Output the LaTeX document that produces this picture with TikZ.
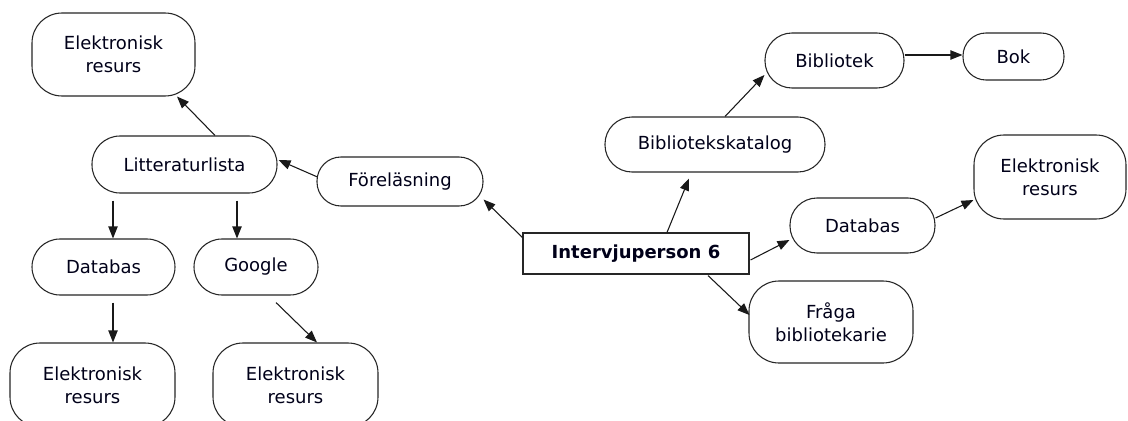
\documentclass[tikz,border=0pt]{standalone}
\usepackage{fontspec}
\setmainfont{DejaVu Sans}
\usetikzlibrary{arrows.meta,calc}
\begin{document}
\begin{tikzpicture}[x=0.75pt,y=-0.75pt,
  every node/.style={font=\fontsize{13.5pt}{17pt}\selectfont, text=black!90!blue, inner sep=0pt, align=center},
  bubble/.style n args={3}{draw=black!85, line width=0.8pt, rounded corners=#3*0.75pt,
      minimum width=#1*0.75pt, minimum height=#2*0.75pt},
  hub/.style={draw=black!85, line width=0.8pt, minimum width=226*0.75pt, minimum height=41*0.75pt,
      font=\bfseries\fontsize{13.5pt}{17pt}\selectfont},
  link/.style={draw=black!90, line width=0.8pt, -{Triangle[length=9pt,width=7pt]}}]
\clip (0,0) rectangle (1128,421);
\fill[white] (0,0) rectangle (1128,421);

% central node
\node[hub] (ip) at (636,253.5) {Intervjuperson 6};

% left branch
\node[bubble={166}{49}{24}] (fore) at (400,181.5) {Föreläsning};
\node[bubble={185}{57}{28}] (lit) at (184.5,164.5) {Litteraturlista};
\node[bubble={163}{83}{30}] (e1) at (113.5,54.5) {Elektronisk\\resurs};
\node[bubble={143}{56}{28}] (db1) at (103.5,267) {Databas};
\node[bubble={124}{56}{28}] (goo) at (256,267) {Google};
\node[bubble={165}{84}{30}] (e3) at (92.5,385) {Elektronisk\\resurs};
\node[bubble={165}{84}{30}] (e4) at (295.5,385) {Elektronisk\\resurs};

% right branch
\node[bubble={220}{55}{27}] (kat) at (715,144.5) {Bibliotekskatalog};
\node[bubble={139}{55}{27}] (bib) at (834.5,60.5) {Bibliotek};
\node[bubble={101}{47}{23}] (bok) at (1013.5,56.5) {Bok};
\node[bubble={145}{55}{27}] (db2) at (862.5,225.5) {Databas};
\node[bubble={152}{84}{30}] (e2) at (1050,177) {Elektronisk\\resurs};
\node[bubble={164}{82}{30}] (fra) at (831,322) {Fråga\\bibliotekarie};

% connectors
\draw[link] ($(ip.north west)+(0,5)$) -- ($(fore.south east)+(0,-7)$);
\draw[link] ($(fore.west)+(1,-4.5)$) -- ($(lit.east)+(1,-4.5)$);
\draw[link] ($(lit.north)+(30.5,0)$) -- ($(e1.south)+(63.5,0)$);
\draw[link] ($(lit.south)+(-71.5,7)$) -- ($(db1.north)+(9.5,0)$);
\draw[link] ($(lit.south)+(52.5,7)$) -- ($(goo.north)+(-19,0)$);
\draw[link] ($(db1.south)+(9.5,7)$) -- ($(e3.north)+(20.5,0)$);
\draw[link] ($(goo.south)+(20,7)$) -- ($(e4.north)+(21.5,0)$);

\draw[link] ($(ip.north)+(31,0)$) -- ($(kat.south)+(-26,6)$);
\draw[link] ($(kat.north)+(10,0)$) -- ($(bib.west)+(0,14.5)$);
\draw[link] ($(bib.east)+(0,-5.5)$) -- ($(bok.west)+(0,-1.5)$);
\draw[link] ($(ip.east)+(1,6.5)$) -- ($(db2.west)+(0,14.5)$);
\draw[link] ($(db2.east)+(0,-7.5)$) -- ($(e2.west)+(0,23)$);
\draw[link] ($(ip.south)+(72,1)$) -- ($(fra.west)+(1,-7)$);
\end{tikzpicture}
\end{document}
